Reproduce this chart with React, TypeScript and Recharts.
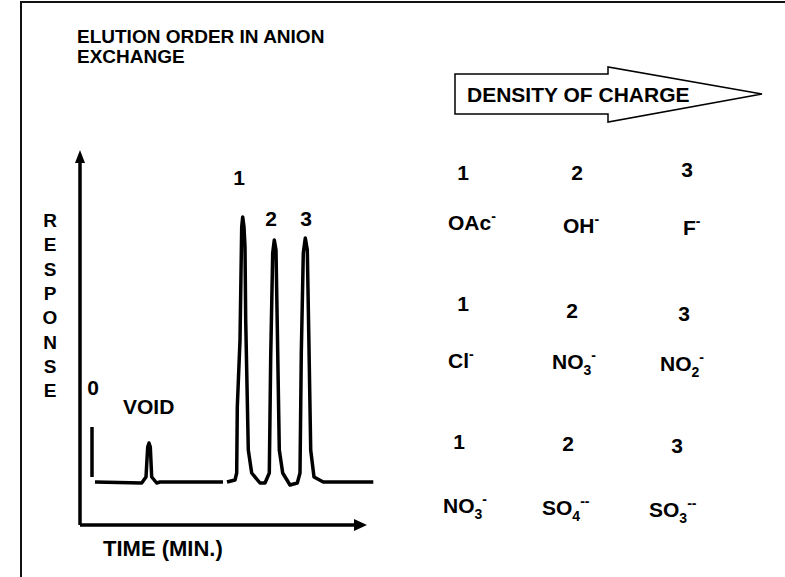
import React from 'react';
import { LineChart, Line, XAxis, YAxis, ReferenceLine, ReferenceDot } from 'recharts';

// chromatogram trace: time (arbitrary min units) vs detector response
const timeMin = [
  1.5, 6.17, 6.6, 6.77, 6.9, 7.03, 7.17, 7.67, 8.0, 14.3, 14.5, 14.7,
  15.5, 15.67, 15.73, 16.0, 16.17, 16.27, 16.4, 16.5, 16.57, 16.83, 17.17, 18.0, 18.5,
  18.93, 19.07, 19.27, 19.43, 19.6, 19.73, 19.93, 20.27, 21.0, 21.73,
  22.0, 22.13, 22.33, 22.53, 22.73, 22.87, 23.07, 23.4, 24.33, 29.33,
];
const response: (number | null)[] = [
  0, -1, 5, 35, 39, 35, 5, -1, 0, 0, null, 0,
  2, 9, 75, 142, 255, 265, 255, 235, 162, 32, 9, -1, -1,
  9, 125, 229, 242, 232, 155, 32, 9, -3, -1,
  9, 129, 229, 244, 232, 152, 32, 5, 0, 0,
];

const peakLabels = ['1', '2', '3'];
const rankRows = [
  ['1', '2', '3'],
  ['1', '2', '3'],
  ['1', '2', '3'],
];
const ionRows = [
  [{ b: 'OAc', sub: '', sup: '-' }, { b: 'OH', sub: '', sup: '-' }, { b: 'F', sub: '', sup: '-' }],
  [{ b: 'Cl', sub: '', sup: '-' }, { b: 'NO', sub: '3', sup: '-' }, { b: 'NO', sub: '2', sup: '-' }],
  [{ b: 'NO', sub: '3', sup: '-' }, { b: 'SO', sub: '4', sup: '--' }, { b: 'SO', sub: '3', sup: '--' }],
];

const data = timeMin.map((t, i) => ({ t, r: response[i] }));

const FONT = '"Liberation Sans", Arial, sans-serif';

const upHead = (p: any) => (
  <polygon points={`${p.cx},${p.cy} ${p.cx - 5},${p.cy + 13} ${p.cx + 5},${p.cy + 13}`} fill="#000" />
);
const rightHead = (p: any) => (
  <polygon points={`${p.cx},${p.cy} ${p.cx - 13},${p.cy - 6} ${p.cx - 13},${p.cy + 6}`} fill="#000" />
);

// layout of the table text (baselines)
const rankPos = [
  [[463, 180], [577, 180], [687, 177]],
  [[463, 311], [572, 318], [684, 321]],
  [[459, 449], [568, 451], [677, 453]],
];
const ionPos = [
  [[448, 230], [563, 233], [683, 235]],
  [[448, 368], [552, 369], [660, 371]],
  [[443, 513], [542, 515], [649, 517]],
];
const peakPos = [[239, 185], [271, 226], [306, 226]];

const App: React.FC = () => {
  return (
    <div style={{ position: 'absolute', left: 0, top: 0, width: 785, height: 577, background: '#fff', overflow: 'hidden' }}>
      <div style={{ position: 'absolute', left: 20, top: 1, width: 765, height: 576, borderTop: '2px solid #111', borderLeft: '2px solid #111' }} />
      <div style={{ position: 'absolute', left: 0, top: 0 }}>
        <LineChart width={785} height={577} data={data} margin={{ top: 150, left: 80, right: 405, bottom: 52 }}>
          <XAxis dataKey="t" type="number" domain={[0, 30]} hide />
          <YAxis type="number" domain={[-43, 332]} hide />
          <ReferenceLine segment={[{ x: 0, y: -43 }, { x: 0, y: 320 }]} stroke="#000" strokeWidth={3.5} ifOverflow="visible" />
          <ReferenceLine segment={[{ x: 0, y: -43 }, { x: 27.5, y: -43 }]} stroke="#000" strokeWidth={3.5} ifOverflow="visible" />
          <ReferenceDot x={0} y={332} r={0} shape={upHead} ifOverflow="visible" />
          <ReferenceDot x={28.7} y={-43} r={0} shape={rightHead} ifOverflow="visible" />
          <ReferenceLine segment={[{ x: 1.2, y: 5 }, { x: 1.2, y: 55 }]} stroke="#000" strokeWidth={3.5} ifOverflow="visible" />
          <Line
            dataKey="r"
            type="linear"
            stroke="#000"
            strokeWidth={3.5}
            strokeLinejoin="round"
            dot={false}
            activeDot={false}
            isAnimationActive={false}
          />
        </LineChart>
      </div>
      <svg width={785} height={577} style={{ position: 'absolute', left: 0, top: 0, pointerEvents: 'none' }} fontFamily={FONT} fontWeight="bold">
        <text x={77} y={43} fontSize={19}>ELUTION ORDER IN ANION</text>
        <text x={77} y={63} fontSize={19}>EXCHANGE</text>
        <polygon points="455,74 608,74 608,67 762,94 608,122 608,114 455,114" fill="#fff" stroke="#000" strokeWidth={1.5} />
        <text x={467} y={102} fontSize={21}>DENSITY OF CHARGE</text>
        {rankRows.map((row, ri) =>
          row.map((v, ci) => (
            <text key={`r${ri}${ci}`} x={rankPos[ri][ci][0]} y={rankPos[ri][ci][1]} fontSize={21} textAnchor="middle">{v}</text>
          ))
        )}
        {ionRows.map((row, ri) =>
          row.map((ion, ci) => (
            <text key={`i${ri}${ci}`} x={ionPos[ri][ci][0]} y={ionPos[ri][ci][1]} fontSize={21}>
              {ion.b}
              {ion.sub ? <tspan fontSize={14} dy={6}>{ion.sub}</tspan> : null}
              {ion.sub ? <tspan fontSize={14} dy={-15}>{ion.sup}</tspan> : <tspan fontSize={14} dy={-9}>{ion.sup}</tspan>}
            </text>
          ))
        )}
        {'RESPONSE'.split('').map((ch, i) => (
          <text key={`resp${i}`} x={50} y={227 + i * 24.3} fontSize={19} textAnchor="middle">{ch}</text>
        ))}
        <text x={93} y={395} fontSize={21} textAnchor="middle">0</text>
        <text x={123} y={414} fontSize={21}>VOID</text>
        {peakLabels.map((l, i) => (
          <text key={`p${i}`} x={peakPos[i][0]} y={peakPos[i][1]} fontSize={21} textAnchor="middle">{l}</text>
        ))}
        <text x={103} y={556} fontSize={22}>TIME (MIN.)</text>
      </svg>
    </div>
  );
};

export default App;
